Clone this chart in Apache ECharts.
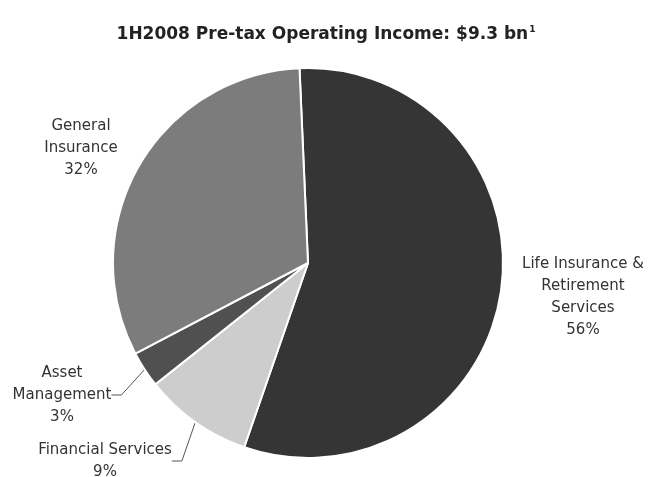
<!DOCTYPE html>
<html>
<head>
<meta charset="utf-8">
<script src="https://cdn.jsdelivr.net/npm/echarts@6/dist/echarts.min.js"></script>
<style>
  html, body { margin: 0; padding: 0; background: #fff; }
  #main { width: 652px; height: 477px; }
</style>
</head>
<body>
<div id="main"></div>
<script>
// segment names, shares (%) and printed labels
var categories = ['Life Insurance &\nRetirement\nServices', 'Financial Services', 'Asset\nManagement', 'General\nInsurance'];
var shares = [56, 9, 3, 32];
var pctLabels = ['56%', '9%', '3%', '32%'];
var fills = ['#353535', '#cdcdcd', '#505050', '#7c7c7c'];

// where each label block sits (centre of text)
var labelSpots = [[583, 297], [105, 461], [62, 395], [81, 148]];

var chart = echarts.init(document.getElementById('main'));

var pieData = categories.map(function (name, i) {
    var hasLine = (i === 1 || i === 2);
    return {
        name: name,
        value: shares[i],
        itemStyle: { color: fills[i] },
        labelLine: { show: hasLine }
    };
});

var option = {
    animation: false,
    title: {
        text: '1H2008 Pre-tax Operating Income: $9.3 bn{sup|1}',
        left: 'center',
        top: 20,
        textStyle: {
            fontFamily: 'DejaVu Sans',
            fontWeight: 'bold',
            fontSize: 17,
            color: '#222',
            rich: {
                sup: { fontFamily: 'DejaVu Sans', fontSize: 9, fontWeight: 'bold', color: '#222', padding: [0, 0, 10, 1] }
            }
        }
    },
    series: [
        {
            type: 'pie',
            center: [308, 263],
            radius: 195,
            startAngle: 92.5,
            clockwise: true,
            data: pieData,
            itemStyle: {
                borderColor: '#fff',
                borderWidth: 2
            },
            label: {
                show: true,
                position: 'outside',
                overflow: 'none',
                fontFamily: 'DejaVu Sans',
                fontSize: 15,
                lineHeight: 22,
                color: '#333',
                align: 'center',
                formatter: function (p) {
                    return p.name + '\n' + pctLabels[p.dataIndex];
                }
            },
            labelLine: {
                length: 8,
                length2: 10,
                lineStyle: { color: '#555', width: 1 }
            },
            labelLayout: function (params) {
                var s = labelSpots[params.dataIndex];
                return {
                    x: s[0],
                    y: s[1],
                    align: 'center',
                    verticalAlign: 'middle'
                };
            },
            emphasis: { disabled: true }
        }
    ]
};

chart.setOption(option);
</script>
</body>
</html>
